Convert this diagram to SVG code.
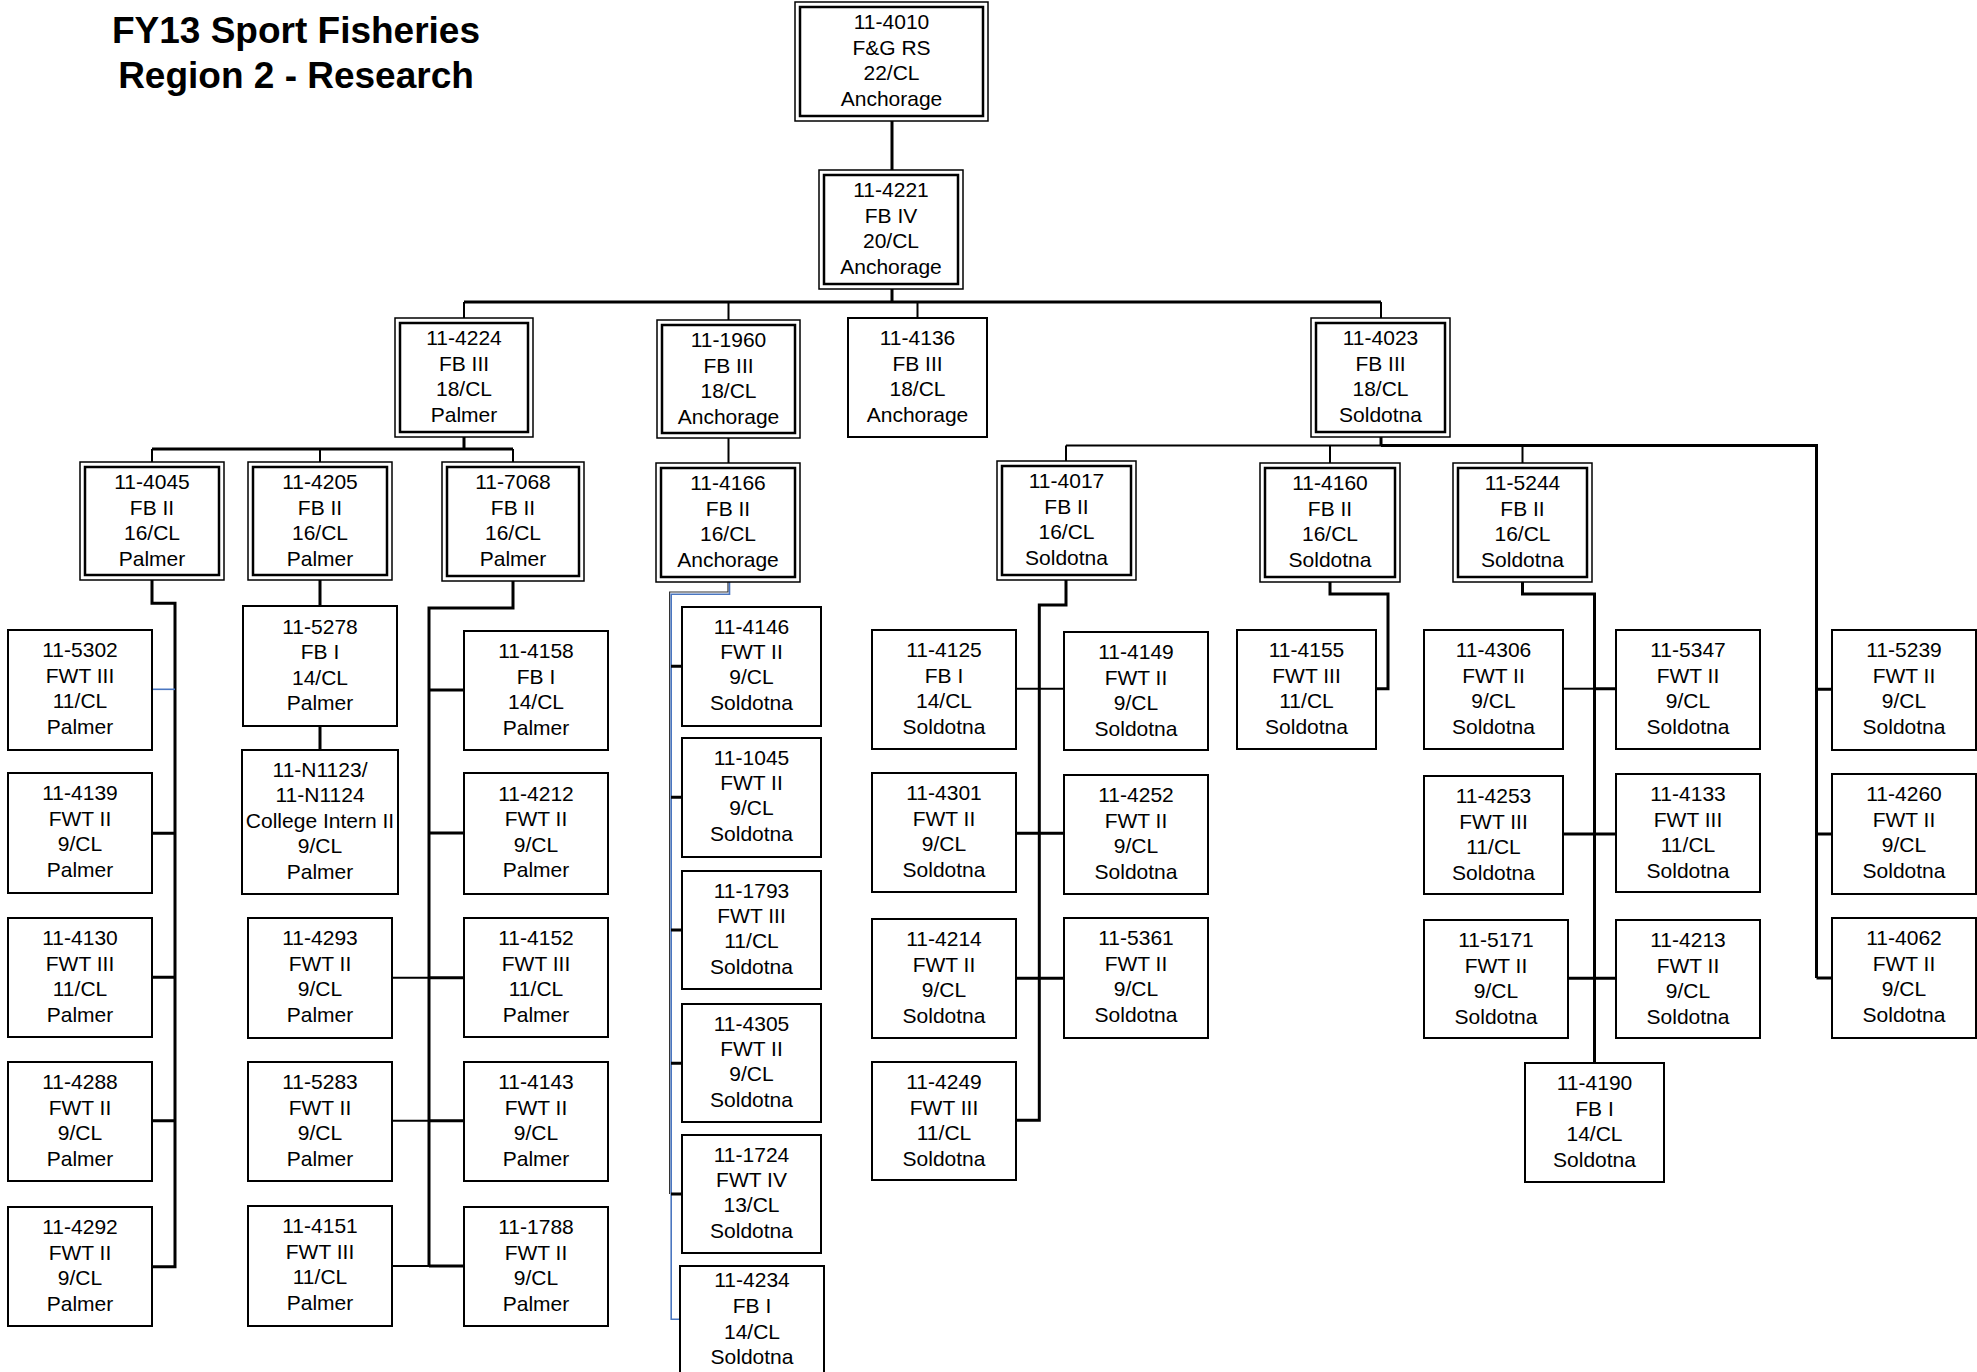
<svg xmlns="http://www.w3.org/2000/svg" width="1977" height="1372" viewBox="0 0 1977 1372">
<style>
.bg{fill:#fff}
.box{fill:#fff;stroke:#000;stroke-width:2}
.outer{fill:#fff;stroke:#000;stroke-width:1.5}
.inner{fill:none;stroke:#000;stroke-width:2.5}
.t{font-family:"Liberation Sans",Arial,sans-serif;font-size:21px;text-anchor:middle;fill:#000}
.title{font-family:"Liberation Sans",Arial,sans-serif;font-size:37px;font-weight:bold;text-anchor:middle;fill:#000}
.c3{fill:none;stroke:#000;stroke-width:3}
.c2{fill:none;stroke:#000;stroke-width:2}
.cb{fill:none;stroke:#4a76c0;stroke-width:1.6}
.cd{fill:none;stroke:#333;stroke-width:1.2}
</style>
<rect class="bg" x="0" y="0" width="1977" height="1372"/>
<g id="title">
<text class="title" x="296" y="43">FY13 Sport Fisheries</text>
<text class="title" x="296" y="88">Region 2 - Research</text>
</g>
<g id="connectors">
<path class="c3" d="M892,121V170M892,289V302M464,302H1381"/>
<path class="c2" d="M464,302V318M728.5,302V320M917.5,302V318M1381,302V318"/>
<path class="c3" d="M464,437V449M152,449H513"/>
<path class="c2" d="M152,449V462M320,449V462M513,449V462"/>
<path class="c2" d="M728.5,438V463"/>
<path class="c3" d="M1381,437V445.5"/>
<path class="c2" d="M1066,445.5H1381M1066,445.5V461M1330,445.5V463M1522.5,445.5V463"/>
<path class="c3" d="M1381,445.5H1816.5V978"/>
<path class="c3" d="M1816.5,689.3H1832M1816.5,834H1832M1816.5,978H1832"/>
<path class="c3" d="M152,580V603.3H175V1266.7H152M152,833.3H175M152,977.3H175M152,1120.7H175"/>
<path class="cb" d="M152,689.3H175"/>
<path class="c3" d="M320,580V606M320,726V750"/>
<path class="c3" d="M513,581V608H429V1266M429,690H464M429,833H464M429,977.7H464M429,1120.7H464M429,1266H464"/>
<path class="c2" d="M392,977.7H429M392,1120.7H429M392,1266H429"/>
<path class="cd" d="M728,582V592H669.6V1194"/>
<path class="cb" d="M729.5,582V594.2H671.2V1319.3H680"/>
<path class="c3" d="M671,666.3H682M671,797.3H682M671,930H682M671,1063.3H682M671,1194H682"/>
<path class="c3" d="M1066,580V605H1039.3V1120.3H1016M1016,833.3H1064M1016,978.3H1064"/>
<path class="c2" d="M1016,688.7H1064"/>
<path class="c3" d="M1330,582V594H1388V688.7H1376"/>
<path class="c3" d="M1522.5,582V594H1594.5V1063M1563,834H1616M1568,978.3H1616M1594.5,688.7H1616"/>
<path class="c2" d="M1563,688.7H1594.5"/>
</g>
<g id="n-11-4010"><rect class="outer" x="795" y="2" width="193" height="119"/><rect class="inner" x="800" y="7" width="183" height="109"/><text class="t" x="891.5" y="29.3"><tspan x="891.5">11-4010</tspan><tspan x="891.5" dy="25.4">F&amp;G RS</tspan><tspan x="891.5" dy="25.4">22/CL</tspan><tspan x="891.5" dy="25.4">Anchorage</tspan></text></g>
<g id="n-11-4221"><rect class="outer" x="819" y="170" width="144" height="119"/><rect class="inner" x="824" y="175" width="134" height="109"/><text class="t" x="891" y="197.3"><tspan x="891">11-4221</tspan><tspan x="891" dy="25.4">FB IV</tspan><tspan x="891" dy="25.4">20/CL</tspan><tspan x="891" dy="25.4">Anchorage</tspan></text></g>
<g id="n-11-4224"><rect class="outer" x="395" y="318" width="138" height="119"/><rect class="inner" x="400" y="323" width="128" height="109"/><text class="t" x="464" y="345.3"><tspan x="464">11-4224</tspan><tspan x="464" dy="25.4">FB III</tspan><tspan x="464" dy="25.4">18/CL</tspan><tspan x="464" dy="25.4">Palmer</tspan></text></g>
<g id="n-11-1960"><rect class="outer" x="657" y="320" width="143" height="118"/><rect class="inner" x="662" y="325" width="133" height="108"/><text class="t" x="728.5" y="347.3"><tspan x="728.5">11-1960</tspan><tspan x="728.5" dy="25.4">FB III</tspan><tspan x="728.5" dy="25.4">18/CL</tspan><tspan x="728.5" dy="25.4">Anchorage</tspan></text></g>
<g id="n-11-4136"><rect class="box" x="848" y="318" width="139" height="119"/><text class="t" x="917.5" y="345.3"><tspan x="917.5">11-4136</tspan><tspan x="917.5" dy="25.4">FB III</tspan><tspan x="917.5" dy="25.4">18/CL</tspan><tspan x="917.5" dy="25.4">Anchorage</tspan></text></g>
<g id="n-11-4023"><rect class="outer" x="1311" y="318" width="139" height="119"/><rect class="inner" x="1316" y="323" width="129" height="109"/><text class="t" x="1380.5" y="345.3"><tspan x="1380.5">11-4023</tspan><tspan x="1380.5" dy="25.4">FB III</tspan><tspan x="1380.5" dy="25.4">18/CL</tspan><tspan x="1380.5" dy="25.4">Soldotna</tspan></text></g>
<g id="n-11-4045"><rect class="outer" x="80" y="462" width="144" height="118"/><rect class="inner" x="85" y="467" width="134" height="108"/><text class="t" x="152" y="489.3"><tspan x="152">11-4045</tspan><tspan x="152" dy="25.4">FB II</tspan><tspan x="152" dy="25.4">16/CL</tspan><tspan x="152" dy="25.4">Palmer</tspan></text></g>
<g id="n-11-4205"><rect class="outer" x="248" y="462" width="144" height="118"/><rect class="inner" x="253" y="467" width="134" height="108"/><text class="t" x="320" y="489.3"><tspan x="320">11-4205</tspan><tspan x="320" dy="25.4">FB II</tspan><tspan x="320" dy="25.4">16/CL</tspan><tspan x="320" dy="25.4">Palmer</tspan></text></g>
<g id="n-11-7068"><rect class="outer" x="442" y="462" width="142" height="119"/><rect class="inner" x="447" y="467" width="132" height="109"/><text class="t" x="513" y="489.3"><tspan x="513">11-7068</tspan><tspan x="513" dy="25.4">FB II</tspan><tspan x="513" dy="25.4">16/CL</tspan><tspan x="513" dy="25.4">Palmer</tspan></text></g>
<g id="n-11-4166"><rect class="outer" x="656" y="463" width="144" height="119"/><rect class="inner" x="661" y="468" width="134" height="109"/><text class="t" x="728" y="490.3"><tspan x="728">11-4166</tspan><tspan x="728" dy="25.4">FB II</tspan><tspan x="728" dy="25.4">16/CL</tspan><tspan x="728" dy="25.4">Anchorage</tspan></text></g>
<g id="n-11-4017"><rect class="outer" x="997" y="461" width="139" height="119"/><rect class="inner" x="1002" y="466" width="129" height="109"/><text class="t" x="1066.5" y="488.3"><tspan x="1066.5">11-4017</tspan><tspan x="1066.5" dy="25.4">FB II</tspan><tspan x="1066.5" dy="25.4">16/CL</tspan><tspan x="1066.5" dy="25.4">Soldotna</tspan></text></g>
<g id="n-11-4160"><rect class="outer" x="1260" y="463" width="140" height="119"/><rect class="inner" x="1265" y="468" width="130" height="109"/><text class="t" x="1330" y="490.3"><tspan x="1330">11-4160</tspan><tspan x="1330" dy="25.4">FB II</tspan><tspan x="1330" dy="25.4">16/CL</tspan><tspan x="1330" dy="25.4">Soldotna</tspan></text></g>
<g id="n-11-5244"><rect class="outer" x="1453" y="463" width="139" height="119"/><rect class="inner" x="1458" y="468" width="129" height="109"/><text class="t" x="1522.5" y="490.3"><tspan x="1522.5">11-5244</tspan><tspan x="1522.5" dy="25.4">FB II</tspan><tspan x="1522.5" dy="25.4">16/CL</tspan><tspan x="1522.5" dy="25.4">Soldotna</tspan></text></g>
<g id="n-11-5302"><rect class="box" x="8" y="630" width="144" height="120"/><text class="t" x="80" y="657.3"><tspan x="80">11-5302</tspan><tspan x="80" dy="25.4">FWT III</tspan><tspan x="80" dy="25.4">11/CL</tspan><tspan x="80" dy="25.4">Palmer</tspan></text></g>
<g id="n-11-4139"><rect class="box" x="8" y="773" width="144" height="120"/><text class="t" x="80" y="800.3"><tspan x="80">11-4139</tspan><tspan x="80" dy="25.4">FWT II</tspan><tspan x="80" dy="25.4">9/CL</tspan><tspan x="80" dy="25.4">Palmer</tspan></text></g>
<g id="n-11-4130"><rect class="box" x="8" y="918" width="144" height="119"/><text class="t" x="80" y="945.3"><tspan x="80">11-4130</tspan><tspan x="80" dy="25.4">FWT III</tspan><tspan x="80" dy="25.4">11/CL</tspan><tspan x="80" dy="25.4">Palmer</tspan></text></g>
<g id="n-11-4288"><rect class="box" x="8" y="1062" width="144" height="119"/><text class="t" x="80" y="1089.3"><tspan x="80">11-4288</tspan><tspan x="80" dy="25.4">FWT II</tspan><tspan x="80" dy="25.4">9/CL</tspan><tspan x="80" dy="25.4">Palmer</tspan></text></g>
<g id="n-11-4292"><rect class="box" x="8" y="1207" width="144" height="119"/><text class="t" x="80" y="1234.3"><tspan x="80">11-4292</tspan><tspan x="80" dy="25.4">FWT II</tspan><tspan x="80" dy="25.4">9/CL</tspan><tspan x="80" dy="25.4">Palmer</tspan></text></g>
<g id="n-11-5278"><rect class="box" x="243" y="606" width="154" height="120"/><text class="t" x="320" y="634"><tspan x="320">11-5278</tspan><tspan x="320" dy="25.4">FB I</tspan><tspan x="320" dy="25.4">14/CL</tspan><tspan x="320" dy="25.4">Palmer</tspan></text></g>
<g id="n-11-N1123"><rect class="box" x="242" y="750" width="156" height="144"/><text class="t" x="320" y="776.7"><tspan x="320">11-N1123/</tspan><tspan x="320" dy="25.5">11-N1124</tspan><tspan x="320" dy="25.5">College Intern II</tspan><tspan x="320" dy="25.5">9/CL</tspan><tspan x="320" dy="25.5">Palmer</tspan></text></g>
<g id="n-11-4293"><rect class="box" x="248" y="918" width="144" height="120"/><text class="t" x="320" y="945.3"><tspan x="320">11-4293</tspan><tspan x="320" dy="25.4">FWT II</tspan><tspan x="320" dy="25.4">9/CL</tspan><tspan x="320" dy="25.4">Palmer</tspan></text></g>
<g id="n-11-5283"><rect class="box" x="248" y="1062" width="144" height="119"/><text class="t" x="320" y="1089.3"><tspan x="320">11-5283</tspan><tspan x="320" dy="25.4">FWT II</tspan><tspan x="320" dy="25.4">9/CL</tspan><tspan x="320" dy="25.4">Palmer</tspan></text></g>
<g id="n-11-4151"><rect class="box" x="248" y="1206" width="144" height="120"/><text class="t" x="320" y="1233.3"><tspan x="320">11-4151</tspan><tspan x="320" dy="25.4">FWT III</tspan><tspan x="320" dy="25.4">11/CL</tspan><tspan x="320" dy="25.4">Palmer</tspan></text></g>
<g id="n-11-4158"><rect class="box" x="464" y="631" width="144" height="119"/><text class="t" x="536" y="658.3"><tspan x="536">11-4158</tspan><tspan x="536" dy="25.4">FB I</tspan><tspan x="536" dy="25.4">14/CL</tspan><tspan x="536" dy="25.4">Palmer</tspan></text></g>
<g id="n-11-4212"><rect class="box" x="464" y="773" width="144" height="121"/><text class="t" x="536" y="800.8"><tspan x="536">11-4212</tspan><tspan x="536" dy="25.4">FWT II</tspan><tspan x="536" dy="25.4">9/CL</tspan><tspan x="536" dy="25.4">Palmer</tspan></text></g>
<g id="n-11-4152"><rect class="box" x="464" y="918" width="144" height="119"/><text class="t" x="536" y="945.3"><tspan x="536">11-4152</tspan><tspan x="536" dy="25.4">FWT III</tspan><tspan x="536" dy="25.4">11/CL</tspan><tspan x="536" dy="25.4">Palmer</tspan></text></g>
<g id="n-11-4143"><rect class="box" x="464" y="1062" width="144" height="119"/><text class="t" x="536" y="1089.3"><tspan x="536">11-4143</tspan><tspan x="536" dy="25.4">FWT II</tspan><tspan x="536" dy="25.4">9/CL</tspan><tspan x="536" dy="25.4">Palmer</tspan></text></g>
<g id="n-11-1788"><rect class="box" x="464" y="1207" width="144" height="119"/><text class="t" x="536" y="1234.3"><tspan x="536">11-1788</tspan><tspan x="536" dy="25.4">FWT II</tspan><tspan x="536" dy="25.4">9/CL</tspan><tspan x="536" dy="25.4">Palmer</tspan></text></g>
<g id="n-11-4146"><rect class="box" x="682" y="607" width="139" height="119"/><text class="t" x="751.5" y="633.5"><tspan x="751.5">11-4146</tspan><tspan x="751.5" dy="25.4">FWT II</tspan><tspan x="751.5" dy="25.4">9/CL</tspan><tspan x="751.5" dy="25.4">Soldotna</tspan></text></g>
<g id="n-11-1045"><rect class="box" x="682" y="738" width="139" height="119"/><text class="t" x="751.5" y="764.5"><tspan x="751.5">11-1045</tspan><tspan x="751.5" dy="25.4">FWT II</tspan><tspan x="751.5" dy="25.4">9/CL</tspan><tspan x="751.5" dy="25.4">Soldotna</tspan></text></g>
<g id="n-11-1793"><rect class="box" x="682" y="871" width="139" height="118"/><text class="t" x="751.5" y="897.5"><tspan x="751.5">11-1793</tspan><tspan x="751.5" dy="25.4">FWT III</tspan><tspan x="751.5" dy="25.4">11/CL</tspan><tspan x="751.5" dy="25.4">Soldotna</tspan></text></g>
<g id="n-11-4305"><rect class="box" x="682" y="1004" width="139" height="118"/><text class="t" x="751.5" y="1030.5"><tspan x="751.5">11-4305</tspan><tspan x="751.5" dy="25.4">FWT II</tspan><tspan x="751.5" dy="25.4">9/CL</tspan><tspan x="751.5" dy="25.4">Soldotna</tspan></text></g>
<g id="n-11-1724"><rect class="box" x="682" y="1135" width="139" height="118"/><text class="t" x="751.5" y="1161.5"><tspan x="751.5">11-1724</tspan><tspan x="751.5" dy="25.4">FWT IV</tspan><tspan x="751.5" dy="25.4">13/CL</tspan><tspan x="751.5" dy="25.4">Soldotna</tspan></text></g>
<g id="n-11-4234"><rect class="box" x="680" y="1266" width="144" height="130"/><text class="t" x="752" y="1287.3"><tspan x="752">11-4234</tspan><tspan x="752" dy="25.6">FB I</tspan><tspan x="752" dy="25.6">14/CL</tspan><tspan x="752" dy="25.6">Soldotna</tspan></text></g>
<g id="n-11-4125"><rect class="box" x="872" y="630" width="144" height="119"/><text class="t" x="944" y="657.3"><tspan x="944">11-4125</tspan><tspan x="944" dy="25.4">FB I</tspan><tspan x="944" dy="25.4">14/CL</tspan><tspan x="944" dy="25.4">Soldotna</tspan></text></g>
<g id="n-11-4301"><rect class="box" x="872" y="773" width="144" height="119"/><text class="t" x="944" y="800.3"><tspan x="944">11-4301</tspan><tspan x="944" dy="25.4">FWT II</tspan><tspan x="944" dy="25.4">9/CL</tspan><tspan x="944" dy="25.4">Soldotna</tspan></text></g>
<g id="n-11-4214"><rect class="box" x="872" y="919" width="144" height="119"/><text class="t" x="944" y="946.3"><tspan x="944">11-4214</tspan><tspan x="944" dy="25.4">FWT II</tspan><tspan x="944" dy="25.4">9/CL</tspan><tspan x="944" dy="25.4">Soldotna</tspan></text></g>
<g id="n-11-4249"><rect class="box" x="872" y="1062" width="144" height="118"/><text class="t" x="944" y="1089.3"><tspan x="944">11-4249</tspan><tspan x="944" dy="25.4">FWT III</tspan><tspan x="944" dy="25.4">11/CL</tspan><tspan x="944" dy="25.4">Soldotna</tspan></text></g>
<g id="n-11-4149"><rect class="box" x="1064" y="632" width="144" height="118"/><text class="t" x="1136" y="659.3"><tspan x="1136">11-4149</tspan><tspan x="1136" dy="25.4">FWT II</tspan><tspan x="1136" dy="25.4">9/CL</tspan><tspan x="1136" dy="25.4">Soldotna</tspan></text></g>
<g id="n-11-4252"><rect class="box" x="1064" y="775" width="144" height="119"/><text class="t" x="1136" y="802.3"><tspan x="1136">11-4252</tspan><tspan x="1136" dy="25.4">FWT II</tspan><tspan x="1136" dy="25.4">9/CL</tspan><tspan x="1136" dy="25.4">Soldotna</tspan></text></g>
<g id="n-11-5361"><rect class="box" x="1064" y="918" width="144" height="120"/><text class="t" x="1136" y="945.3"><tspan x="1136">11-5361</tspan><tspan x="1136" dy="25.4">FWT II</tspan><tspan x="1136" dy="25.4">9/CL</tspan><tspan x="1136" dy="25.4">Soldotna</tspan></text></g>
<g id="n-11-4155"><rect class="box" x="1237" y="630" width="139" height="119"/><text class="t" x="1306.5" y="657.3"><tspan x="1306.5">11-4155</tspan><tspan x="1306.5" dy="25.4">FWT III</tspan><tspan x="1306.5" dy="25.4">11/CL</tspan><tspan x="1306.5" dy="25.4">Soldotna</tspan></text></g>
<g id="n-11-4306"><rect class="box" x="1424" y="630" width="139" height="119"/><text class="t" x="1493.5" y="657.3"><tspan x="1493.5">11-4306</tspan><tspan x="1493.5" dy="25.4">FWT II</tspan><tspan x="1493.5" dy="25.4">9/CL</tspan><tspan x="1493.5" dy="25.4">Soldotna</tspan></text></g>
<g id="n-11-4253"><rect class="box" x="1424" y="776" width="139" height="118"/><text class="t" x="1493.5" y="803.3"><tspan x="1493.5">11-4253</tspan><tspan x="1493.5" dy="25.4">FWT III</tspan><tspan x="1493.5" dy="25.4">11/CL</tspan><tspan x="1493.5" dy="25.4">Soldotna</tspan></text></g>
<g id="n-11-5171"><rect class="box" x="1424" y="920" width="144" height="118"/><text class="t" x="1496" y="947.3"><tspan x="1496">11-5171</tspan><tspan x="1496" dy="25.4">FWT II</tspan><tspan x="1496" dy="25.4">9/CL</tspan><tspan x="1496" dy="25.4">Soldotna</tspan></text></g>
<g id="n-11-5347"><rect class="box" x="1616" y="630" width="144" height="119"/><text class="t" x="1688" y="657.3"><tspan x="1688">11-5347</tspan><tspan x="1688" dy="25.4">FWT II</tspan><tspan x="1688" dy="25.4">9/CL</tspan><tspan x="1688" dy="25.4">Soldotna</tspan></text></g>
<g id="n-11-4133"><rect class="box" x="1616" y="774" width="144" height="118"/><text class="t" x="1688" y="801.3"><tspan x="1688">11-4133</tspan><tspan x="1688" dy="25.4">FWT III</tspan><tspan x="1688" dy="25.4">11/CL</tspan><tspan x="1688" dy="25.4">Soldotna</tspan></text></g>
<g id="n-11-4213"><rect class="box" x="1616" y="920" width="144" height="118"/><text class="t" x="1688" y="947.3"><tspan x="1688">11-4213</tspan><tspan x="1688" dy="25.4">FWT II</tspan><tspan x="1688" dy="25.4">9/CL</tspan><tspan x="1688" dy="25.4">Soldotna</tspan></text></g>
<g id="n-11-4190"><rect class="box" x="1525" y="1063" width="139" height="119"/><text class="t" x="1594.5" y="1090.3"><tspan x="1594.5">11-4190</tspan><tspan x="1594.5" dy="25.4">FB I</tspan><tspan x="1594.5" dy="25.4">14/CL</tspan><tspan x="1594.5" dy="25.4">Soldotna</tspan></text></g>
<g id="n-11-5239"><rect class="box" x="1832" y="630" width="144" height="120"/><text class="t" x="1904" y="657.3"><tspan x="1904">11-5239</tspan><tspan x="1904" dy="25.4">FWT II</tspan><tspan x="1904" dy="25.4">9/CL</tspan><tspan x="1904" dy="25.4">Soldotna</tspan></text></g>
<g id="n-11-4260"><rect class="box" x="1832" y="774" width="144" height="120"/><text class="t" x="1904" y="801.3"><tspan x="1904">11-4260</tspan><tspan x="1904" dy="25.4">FWT II</tspan><tspan x="1904" dy="25.4">9/CL</tspan><tspan x="1904" dy="25.4">Soldotna</tspan></text></g>
<g id="n-11-4062"><rect class="box" x="1832" y="918" width="144" height="120"/><text class="t" x="1904" y="945.3"><tspan x="1904">11-4062</tspan><tspan x="1904" dy="25.4">FWT II</tspan><tspan x="1904" dy="25.4">9/CL</tspan><tspan x="1904" dy="25.4">Soldotna</tspan></text></g>
</svg>
